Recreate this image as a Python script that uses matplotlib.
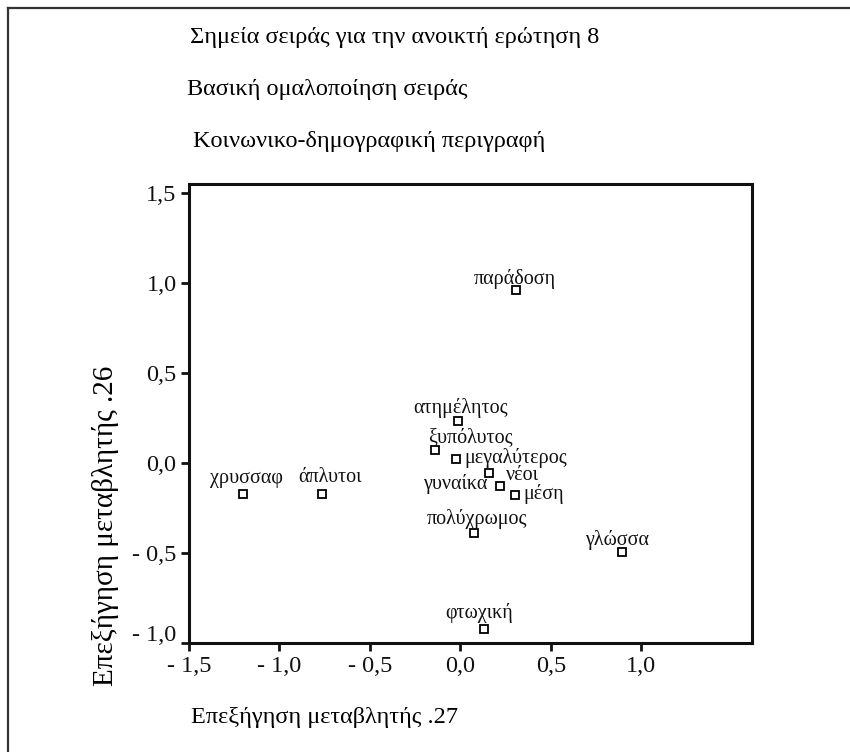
import matplotlib.pyplot as plt
import matplotlib.transforms as mtransforms
from matplotlib.lines import Line2D

plt.rcParams['font.family'] = ['Liberation Serif', 'DejaVu Serif']

# category points (dimension 1, dimension 2)
labels = ['παράδοση', 'ατημέλητος', 'ξυπόλυτος', 'μεγαλύτερος', 'γυναίκα', 'νέοι',
          'μέση', 'πολύχρωμος', 'γλώσσα', 'φτωχική', 'χρυσσαφ', 'άπλυτοι']
dim1 = [0.31, -0.015, -0.14, -0.024, 0.156, 0.217, 0.30, 0.077, 0.891, 0.129, -1.20, -0.766]
dim2 = [0.96, 0.235, 0.07, 0.024, -0.054, -0.128, -0.18, -0.387, -0.496, -0.92, -0.172, -0.172]

xticks = [-1.5, -1.0, -0.5, 0.0, 0.5, 1.0]
xticklabels = ['- 1,5', '- 1,0', '- 0,5', '0,0', '0,5', '1,0']
yticks = [-1.0, -0.5, 0.0, 0.5, 1.0, 1.5]
yticklabels = ['- 1,0', '- 0,5', '0,0', '0,5', '1,0', '1,5']

# label placement (pixel offsets from the marker, alignment)
label_pos = {
    'παράδοση': (-2, 6, 'center'),
    'ατημέλητος': (3, 8, 'center'),
    'ξυπόλυτος': (-7, 8, 'left'),
    'μεγαλύτερος': (8, -4, 'left'),
    'γυναίκα': (-1, -16, 'right'),
    'νέοι': (6, 6, 'left'),
    'μέση': (9, -4, 'left'),
    'πολύχρωμος': (3, 9, 'center'),
    'γλώσσα': (-4, 7, 'center'),
    'φτωχική': (-5, 11, 'center'),
    'χρυσσαφ': (3, 11, 'center'),
    'άπλυτοι': (8, 12, 'center'),
}

fs_pts = 14.5   # point labels
fs_txt = 17.5   # titles, tick labels, x label
fs_ylab = 21

fig = plt.figure(figsize=(8.5, 7.52), dpi=100)
ax = fig.add_axes([189 / 850, 1 - 643 / 752, 563 / 850, 459 / 752])

ax.plot(dim1, dim2, linestyle='none', marker='s', markersize=5.2,
        markerfacecolor='white', markeredgecolor='black', markeredgewidth=1.3)

for name, x, y in zip(labels, dim1, dim2):
    dx, dy, ha = label_pos[name]
    ax.annotate(name, (x, y), xytext=(dx, dy), textcoords='offset pixels',
                ha=ha, va='baseline', fontsize=fs_pts, color='#111111')

ax.set_xlim(-1.5, 1.612)
ax.set_ylim(-1.0, 1.55)
ax.set_xticks(xticks)
ax.set_xticklabels(xticklabels)
ax.set_yticks(yticks)
ax.set_yticklabels(yticklabels)
ax.tick_params(direction='out', length=6, width=2, labelsize=fs_txt, pad=3, colors='#111111')
for sp in ax.spines.values():
    sp.set_linewidth(2.2)
    sp.set_color('#111111')

# the lowest y label sits a little higher in the original
lab = ax.get_yticklabels()[0]
lab.set_transform(lab.get_transform() + mtransforms.ScaledTranslation(0, 0.1, fig.dpi_scale_trans))

# titles
fig.text(190 / 850, 1 - 38 / 752, 'Σημεία σειράς για την ανοικτή ερώτηση 8', fontsize=fs_txt, va='center', ha='left')
fig.text(187 / 850, 1 - 90 / 752, 'Βασική ομαλοποίηση σειράς', fontsize=fs_txt, va='center', ha='left')
fig.text(193 / 850, 1 - 142 / 752, 'Κοινωνικο-δημογραφική περιγραφή', fontsize=fs_txt, va='center', ha='left')

fig.text(191 / 850, 1 - 718 / 752, 'Επεξήγηση μεταβλητής .27', fontsize=fs_txt, va='center', ha='left')
fig.text(106 / 850, 1 - 526 / 752, 'Επεξήγηση μεταβλητής .26', fontsize=fs_ylab, va='center', ha='center', rotation=90)

# outer frame (top and left edge only)
fig.add_artist(Line2D([8 / 850, 8 / 850], [0, 1 - 8 / 752], transform=fig.transFigure, color='#333333', lw=1.6))
fig.add_artist(Line2D([8 / 850, 1], [1 - 8 / 752, 1 - 8 / 752], transform=fig.transFigure, color='#333333', lw=1.6))

fig.savefig('out.png', dpi=100)
